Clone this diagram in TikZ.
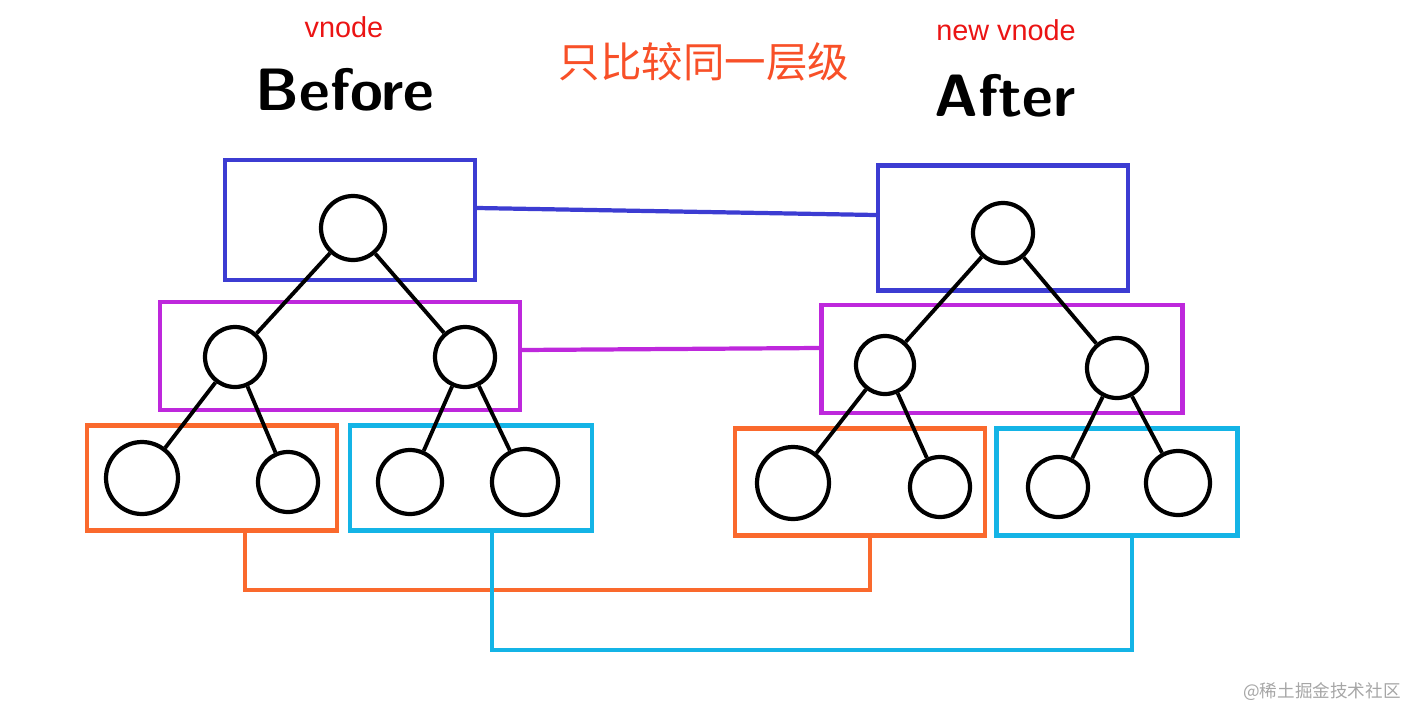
\documentclass[tikz,border=0pt]{standalone}
\usepackage{fontspec}
\setmainfont{Liberation Sans}
\newfontfamily\cjk{Noto Sans CJK SC}
\usetikzlibrary{calc}
\definecolor{boxblue}{RGB}{60,60,210}
\definecolor{boxpurple}{RGB}{190,40,220}
\definecolor{boxorange}{RGB}{250,105,45}
\definecolor{boxcyan}{RGB}{20,180,230}
\definecolor{labred}{RGB}{235,20,20}
\definecolor{titleorange}{RGB}{248,80,40}

\begin{document}
\begin{tikzpicture}[x=0.01cm,y=-0.01cm,
  level/.style={draw, line width=1.2pt, inner sep=0pt},
  vn/.style={circle, draw=black, line width=1.2pt, inner sep=0pt},
  edge/.style={line width=1.1pt},
  link/.style={line width=1.2pt}]
  \useasboundingbox (0,0) rectangle (1420,724);

  % 标题
  \node[text=labred, font=\fontsize{8.2}{9}\selectfont] (lv) at (344,27) {vnode};
  \node[text=labred, font=\fontsize{8.2}{9}\selectfont] (rv) at (1006,30) {new vnode};
  \node[text=titleorange, font=\cjk\fontsize{11.8}{14}\selectfont] (title) at (704,62) {只比较同一层级};
  \node[font=\sffamily\bfseries\fontsize{17}{20}\selectfont] (before) at (345,90) {Before};
  \node[font=\sffamily\bfseries\fontsize{17}{20}\selectfont] (after) at (1005,96) {After};

  % 层级框
  \node[level, boxblue, minimum width=250*0.01cm, minimum height=120*0.01cm] (bL) at (350,220) {};
  \node[level, boxblue, minimum width=250*0.01cm, minimum height=125*0.01cm] (bR) at (1003,228) {};
  \node[level, boxpurple, minimum width=360*0.01cm, minimum height=108*0.01cm] (pL) at (340,356) {};
  \node[level, boxpurple, minimum width=361*0.01cm, minimum height=108*0.01cm] (pR) at (1002,359) {};
  \node[level, boxorange, minimum width=250*0.01cm, minimum height=105*0.01cm] (oL) at (212,478) {};
  \node[level, boxcyan, minimum width=242*0.01cm, minimum height=105*0.01cm] (cL) at (471,478) {};
  \node[level, boxorange, minimum width=250*0.01cm, minimum height=107*0.01cm] (oR) at (860,482) {};
  \node[level, boxcyan, minimum width=241*0.01cm, minimum height=107*0.01cm] (cR) at (1117,482) {};

  % 左树
  \node[vn, minimum size=64*0.01cm] (l0) at (353,228) {};
  \node[vn, minimum size=60*0.01cm] (l1) at (235,357) {};
  \node[vn, minimum size=60*0.01cm] (l2) at (465,357) {};
  \node[vn, minimum size=72*0.01cm] (l3) at (142,478) {};
  \node[vn, minimum size=60*0.01cm] (l4) at (288,482) {};
  \node[vn, minimum size=64*0.01cm] (l5) at (410,482) {};
  \node[vn, minimum size=66*0.01cm] (l6) at (525,482) {};
  \draw[edge] (l0) -- (l1);
  \draw[edge] (l0) -- (l2);
  \draw[edge] (l1) -- (l3);
  \draw[edge] (l1) -- (l4);
  \draw[edge] (l2) -- (l5);
  \draw[edge] (l2) -- (l6);

  % 右树
  \node[vn, minimum size=60*0.01cm] (r0) at (1003,233) {};
  \node[vn, minimum size=58*0.01cm] (r1) at (885,365) {};
  \node[vn, minimum size=60*0.01cm] (r2) at (1117,368) {};
  \node[vn, minimum size=72*0.01cm] (r3) at (793,483) {};
  \node[vn, minimum size=60*0.01cm] (r4) at (940,487) {};
  \node[vn, minimum size=60*0.01cm] (r5) at (1058,487) {};
  \node[vn, minimum size=64*0.01cm] (r6) at (1178,483) {};
  \draw[edge] (r0) -- (r1);
  \draw[edge] (r0) -- (r2);
  \draw[edge] (r1) -- (r3);
  \draw[edge] (r1) -- (r4);
  \draw[edge] (r2) -- (r5);
  \draw[edge] (r2) -- (r6);

  % 同层连线
  \draw[link, boxblue] ($(bL.east)+(0,-12)$) -- ($(bR.west)+(0,-13)$);
  \draw[link, boxpurple] ($(pL.east)+(0,-6)$) -- ($(pR.west)+(0,-11)$);
  \draw[link, boxorange] ($(oL.south)+(33,0)$) -- ++(0,57) -| ($(oR.south)+(10,0)$);
  \draw[link, boxcyan] ($(cL.south)+(21,0)$) -- ++(0,117) -| ($(cR.south)+(15,0)$);

  \node[text=gray!70, font=\cjk\fontsize{5}{6}\selectfont] (mark) at (1322,692) {@稀土掘金技术社区};
\end{tikzpicture}
\end{document}
